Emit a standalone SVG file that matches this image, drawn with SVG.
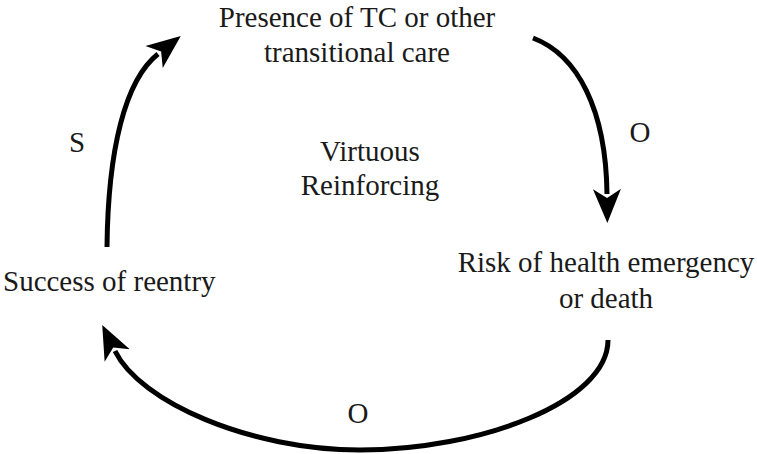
<svg xmlns="http://www.w3.org/2000/svg" width="757" height="454" viewBox="0 0 757 454">
<style>
text{font-family:"Liberation Serif","Times New Roman",serif;font-size:29px;fill:#1a1a1a}
.m{text-anchor:middle}
.c{fill:none;stroke:#000;stroke-width:5}
</style>
<defs>
<marker id="ah" markerUnits="userSpaceOnUse" viewBox="0 -15 34 30" refX="5" refY="0" markerWidth="34" markerHeight="30" orient="auto">
<path d="M0,-14 L34,0 L0,14 L9,0 Z" fill="#000"/>
</marker>
</defs>
<rect width="757" height="454" fill="#fff"/>
<g id="connectors">
<path class="c" d="M533,38 C578,55 606,110 607,194" marker-end="url(#ah)"/>
<path class="c" d="M608,340 C608,402 480,450 360,450 C250,450 140,402 115,351" marker-end="url(#ah)"/>
<path class="c" d="M107,247 C108,150 125,80 158,54" marker-end="url(#ah)"/>
</g>
<g id="labels">
<text class="m" x="640" y="142">O</text>
<text class="m" x="358" y="423">O</text>
<text class="m" x="77" y="152">S</text>
</g>
<g id="node-tc">
<text class="m" x="357" y="27">Presence of TC or other</text>
<text class="m" x="357" y="62">transitional care</text>
</g>
<g id="node-center">
<text class="m" x="370" y="161">Virtuous</text>
<text class="m" x="370" y="195">Reinforcing</text>
</g>
<g id="node-risk">
<text class="m" x="606" y="272">Risk of health emergency</text>
<text class="m" x="606" y="308">or death</text>
</g>
<g id="node-success">
<text x="3" y="291">Success of reentry</text>
</g>
</svg>
